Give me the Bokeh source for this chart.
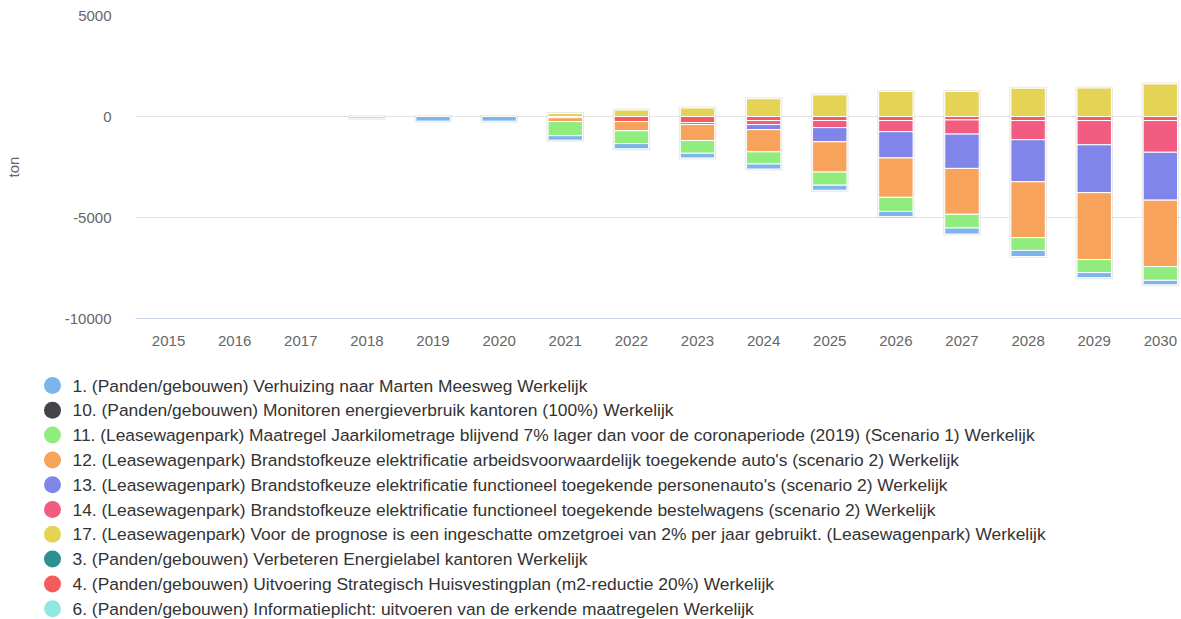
import numpy as np
from bokeh.plotting import figure
from bokeh.models import Range1d, FixedTicker, ColumnDataSource, PrintfTickFormatter
from bokeh.core.properties import value
from bokeh.embed import file_html
from bokeh.resources import INLINE

years = [2015, 2016, 2017, 2018, 2019, 2020, 2021, 2022, 2023, 2024, 2025, 2026, 2027, 2028, 2029, 2030]

labels = [
    "1. (Panden/gebouwen) Verhuizing naar Marten Meesweg Werkelijk",
    "10. (Panden/gebouwen) Monitoren energieverbruik kantoren (100%) Werkelijk",
    "11. (Leasewagenpark) Maatregel Jaarkilometrage blijvend 7% lager dan voor de coronaperiode (2019) (Scenario 1) Werkelijk",
    "12. (Leasewagenpark) Brandstofkeuze elektrificatie arbeidsvoorwaardelijk toegekende auto's (scenario 2) Werkelijk",
    "13. (Leasewagenpark) Brandstofkeuze elektrificatie functioneel toegekende personenauto's (scenario 2) Werkelijk",
    "14. (Leasewagenpark) Brandstofkeuze elektrificatie functioneel toegekende bestelwagens (scenario 2) Werkelijk",
    "17. (Leasewagenpark) Voor de prognose is een ingeschatte omzetgroei van 2% per jaar gebruikt. (Leasewagenpark) Werkelijk",
    "3. (Panden/gebouwen) Verbeteren Energielabel kantoren Werkelijk",
    "4. (Panden/gebouwen) Uitvoering Strategisch Huisvestingplan (m2-reductie 20%) Werkelijk",
    "6. (Panden/gebouwen) Informatieplicht: uitvoeren van de erkende maatregelen Werkelijk",
]

colors = ["#7cb5ec", "#434348", "#90ed7d", "#f7a35c", "#8085e9", "#f15c80",
          "#e4d354", "#2b908f", "#f45b5b", "#91e8e1"]

s1  = [0, 0, 0, -80, -230, -230, -220, -260, -230, -250, -250, -250, -300, -300, -250, -220]
s10 = [0, 0, 0, 0, 0, 0, 0, 0, 0, 0, 0, 0, 0, 0, 0, 0]
s11 = [0, 0, 0, 0, 0, 0, -700, -630, -630, -600, -650, -700, -680, -630, -650, -680]
s12 = [0, 0, 0, 0, 0, 0, -190, -460, -790, -1100, -1500, -1950, -2270, -2770, -3310, -3290]
s13 = [0, 0, 0, 0, 0, 0, 0, 0, -100, -250, -700, -1300, -1700, -2080, -2370, -2370]
s14 = [0, 0, 0, 0, 0, 0, 0, 0, 0, -200, -350, -550, -700, -950, -1200, -1570]
s17 = [0, 0, 0, 0, 0, 0, 150, 320, 420, 880, 1070, 1240, 1240, 1400, 1410, 1610]
s3  = [0, 0, 0, 0, 0, 0, 0, 0, 0, 0, 0, 0, 0, 0, 0, 0]
s4  = [0, 0, 0, 0, 0, 0, -60, -250, -300, -200, -200, -200, -170, -200, -200, -200]
s6  = [0, 0, 0, 0, 0, 0, 0, 0, 0, 0, 0, 0, 0, 0, 0, 0]

series = [s1, s10, s11, s12, s13, s14, s17, s3, s4, s6]

FONT = "Liberation Sans"
W = 1181

p = figure(width=W, height=362, x_range=Range1d(2014.5, 2030.32),
           y_range=Range1d(-10000, 5000), output_backend="svg", toolbar_location=None,
           min_border_left=135, min_border_right=0, min_border_top=15, min_border_bottom=44)
p.outline_line_color = None
p.background_fill_color = "white"

# stacking: last series in legend order sits nearest to zero
yrs = np.array(years, dtype=float)
pos_base = np.zeros(len(years))
neg_base = np.zeros(len(years))
parts = []
for idx in reversed(range(len(series))):
    vals = np.array(series[idx], dtype=float)
    bottom = np.where(vals >= 0, pos_base, neg_base)
    top = bottom + vals
    pos_base = np.where(vals > 0, top, pos_base)
    neg_base = np.where(vals < 0, top, neg_base)
    parts.append((idx, vals, bottom, top))

# soft shadow around each stack
smask = (pos_base != 0) | (neg_base != 0)
p.vbar(x=yrs[smask], bottom=neg_base[smask] - 40, top=pos_base[smask] + 40, width=0.545,
       fill_color=None, line_color="#000000", line_alpha=0.09, line_width=1.5)

for idx, vals, bottom, top in parts:
    mask = vals != 0
    if mask.any():
        src = ColumnDataSource(dict(x=yrs[mask], bottom=bottom[mask], top=top[mask]))
        p.vbar(x="x", bottom="bottom", top="top", width=0.52, source=src,
               fill_color=colors[idx], line_color="white", line_width=1)

p.xaxis.ticker = FixedTicker(ticks=years)
p.yaxis.ticker = FixedTicker(ticks=[-10000, -5000, 0, 5000])
p.yaxis.formatter = PrintfTickFormatter(format="%d")
p.xgrid.grid_line_color = None
p.ygrid.grid_line_color = "#e6e6e6"
p.ygrid.ticker = FixedTicker(ticks=[-10000, -5000, 0, 5000])

p.yaxis.axis_line_color = None
p.yaxis.major_tick_line_color = None
p.yaxis.minor_tick_line_color = None
p.yaxis.major_label_standoff = 18
p.yaxis.axis_label = "ton"
p.yaxis.axis_label_standoff = 40
p.yaxis.axis_label_text_font = FONT
p.yaxis.axis_label_text_font_style = "normal"
p.yaxis.axis_label_text_font_size = "15px"
p.yaxis.axis_label_text_color = "#666666"

p.xaxis.axis_line_color = "#ccd6eb"
p.xaxis.major_tick_line_color = None
p.xaxis.minor_tick_line_color = None
p.xaxis.major_label_standoff = 11

for ax in (p.xaxis, p.yaxis):
    ax.major_label_text_font = FONT
    ax.major_label_text_font_size = "15px"
    ax.major_label_text_color = "#666666"

# legend panel (separate root so its frame is not aligned with the chart frame)
LW, LH = W, 257
lg = figure(width=LW, height=LH, x_range=Range1d(0, LW), y_range=Range1d(LH, 0),
            output_backend="svg", toolbar_location=None, x_axis_type=None, y_axis_type=None,
            min_border_left=0, min_border_right=0, min_border_top=0, min_border_bottom=0)
lg.outline_line_color = None
lg.xgrid.grid_line_color = None
lg.ygrid.grid_line_color = None

n = len(labels)
row_y = [23 + i * 24.8 for i in range(n)]
lg.scatter(x=[52] * n, y=row_y, size=17, marker="circle", fill_color=colors, line_color=None)
lg.text(x=[72] * n, y=row_y, text=labels, text_font=value(FONT), text_font_size="17.4px",
        text_color="#333333", text_baseline="middle", text_align="left")

open("out.html", "w").write(file_html([p, lg], INLINE))
